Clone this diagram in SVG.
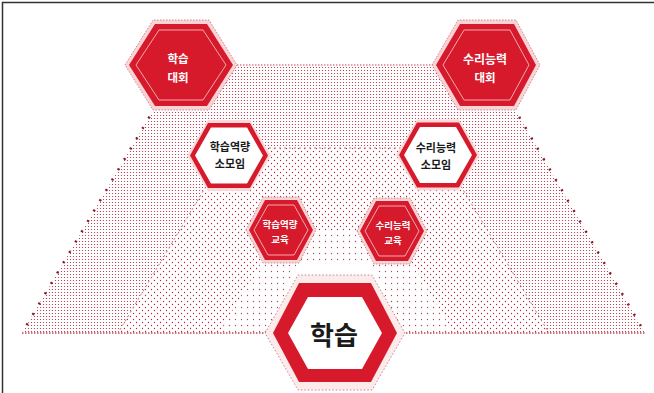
<svg xmlns="http://www.w3.org/2000/svg" width="654" height="393" viewBox="0 0 654 393">
<style>
.t{font-family:'Noto Sans CJK KR','Noto Sans',sans-serif;font-weight:bold;text-anchor:middle;dominant-baseline:central}
.w{fill:#ffffff}
.k{fill:#1a1a1a}
.halo{fill:#f9d4d6;stroke:#c96a74;stroke-width:0.8;stroke-dasharray:1.5 1.5}
.red{fill:#d61a2b}
.inl{fill:none;stroke:#f3a8b0;stroke-width:1}
.wh{fill:#ffffff}
</style>
<defs>
<pattern id="dense" width="3" height="3" patternUnits="userSpaceOnUse">
<circle cx="1.5" cy="1.5" r="0.62" fill="#a8283e"/>
</pattern>
<pattern id="mid" width="6" height="6" patternUnits="userSpaceOnUse">
<circle cx="1.5" cy="1.5" r="0.65" fill="#a8283e"/>
<circle cx="4.5" cy="4.5" r="0.65" fill="#a8283e"/>
</pattern>
<pattern id="sparse" width="6" height="6" patternUnits="userSpaceOnUse">
<circle cx="1.5" cy="1.5" r="0.65" fill="#b0485a"/>
</pattern>
</defs>
<rect width="654" height="393" fill="#ffffff"/>
<path d="M2.5,393 V2.5 H654" fill="none" stroke="#333333" stroke-width="1.5"/>
<g id="background">
<polygon points="180,65 489,65 645,333 22,333" fill="url(#dense)"/>
<polygon points="229,148 438,148 549,333 118,333" fill="#ffffff"/>
<polygon points="229,148 438,148 549,333 118,333" fill="url(#mid)"/>
<polygon points="281,230 392,230 454,333 219,333" fill="#ffffff"/>
<polygon points="281,230 392,230 454,333 219,333" fill="url(#sparse)"/>
<polygon points="300,262 370,262 385,290 285,290" fill="#ffffff"/>
<path d="M180,65 L22,333" fill="none" stroke="#8a1a2a" stroke-width="2.5" stroke-dasharray="2 10"/>
<path d="M489,65 L645,333" fill="none" stroke="#8a1a2a" stroke-width="2.5" stroke-dasharray="2 10"/>
<path d="M22,333 H645" fill="none" stroke="#c04a5a" stroke-width="1.6" stroke-dasharray="1.5 1.5"/>
<path d="M180,65 H489" fill="none" stroke="#c04a5a" stroke-width="1.2" stroke-dasharray="1.5 1.5"/>
<path d="M229,148 H438" fill="none" stroke="#c77080" stroke-width="1" stroke-dasharray="2 3"/>
<path d="M229,148 L118,333 M438,148 L549,333" fill="none" stroke="#c77080" stroke-width="1" stroke-dasharray="2 3"/>
</g>
<g id="node-top-left">
<polygon class="halo" points="125,65 153,20 209,20 237,65 209,110 153,110"/>
<polygon class="red" points="129,65 155,24 207,24 233,65 207,106 155,106"/>
<polygon class="inl" points="136,65 159,30 203,30 226,65 203,100 159,100"/>
<text class="t w" x="178" y="58" font-size="11.5">학습</text>
<text class="t w" x="178" y="77" font-size="11.5">대회</text>
</g>
<g id="node-top-right">
<polygon class="halo" points="432,65 458,20 516,20 540,65 516,110 458,110"/>
<polygon class="red" points="436,65 460,24 514,24 536,65 514,106 460,106"/>
<polygon class="inl" points="443,65 464,30 510,30 529,65 510,100 464,100"/>
<text class="t w" x="485" y="58" font-size="12">수리능력</text>
<text class="t w" x="485" y="77" font-size="11.5">대회</text>
</g>
<g id="node-mid-left">
<polygon fill="#fbd9db" points="187,155.5 208,120 250,120 271,155.5 250,191 208,191"/>
<polygon class="red" points="190,155.5 208,123 250,123 268,155.5 250,188 208,188"/>
<polygon class="wh" points="195,155.5 211,127.5 247,127.5 263,155.5 247,183.5 211,183.5"/>
<text class="t k" x="230" y="146" font-size="11">학습역량</text>
<text class="t k" x="230" y="163" font-size="11">소모임</text>
</g>
<g id="node-mid-right">
<polygon fill="#fbd9db" points="396,155 417,119.5 459,119.5 480,155 459,190.5 417,190.5"/>
<polygon class="red" points="399,155 417,122.5 459,122.5 477,155 459,187.5 417,187.5"/>
<polygon class="wh" points="404,155 420,127 456,127 472,155 456,183 420,183"/>
<text class="t k" x="436" y="147" font-size="11">수리능력</text>
<text class="t k" x="436" y="164" font-size="11">소모임</text>
</g>
<g id="node-bottom-left">
<polygon class="halo" points="246,230 263,197 299,197 316,230 299,263 263,263"/>
<polygon class="red" points="249,230 265,200 297,200 313,230 297,260 265,260"/>
<polygon class="inl" points="254,230 268,205 294,205 308,230 294,255 268,255"/>
<text class="t w" x="280" y="224" font-size="9.5">학습역량</text>
<text class="t w" x="280" y="239" font-size="9.5">교육</text>
</g>
<g id="node-bottom-right">
<polygon class="halo" points="357,231 374,198 410,198 427,231 410,264 374,264"/>
<polygon class="red" points="360,231 376,201 408,201 424,231 408,261 376,261"/>
<polygon class="inl" points="365,231 379,206 405,206 419,231 405,256 379,256"/>
<text class="t w" x="393" y="225" font-size="9.5">수리능력</text>
<text class="t w" x="393" y="240" font-size="9.5">교육</text>
</g>
<g id="node-main">
<polygon fill="#fdeaea" stroke="#b0707a" stroke-width="0.8" stroke-dasharray="1.5 2" points="265,333 298,275 372,275 405,333 372,390 298,390"/>
<polygon class="red" points="273,333 299,283 371,283 397,333 371,382 299,382"/>
<polygon class="wh" points="288,333 308,297 362,297 382,333 362,369 308,369"/>
<text class="t k" x="334" y="333" font-size="26">학습</text>
</g>
</svg>
